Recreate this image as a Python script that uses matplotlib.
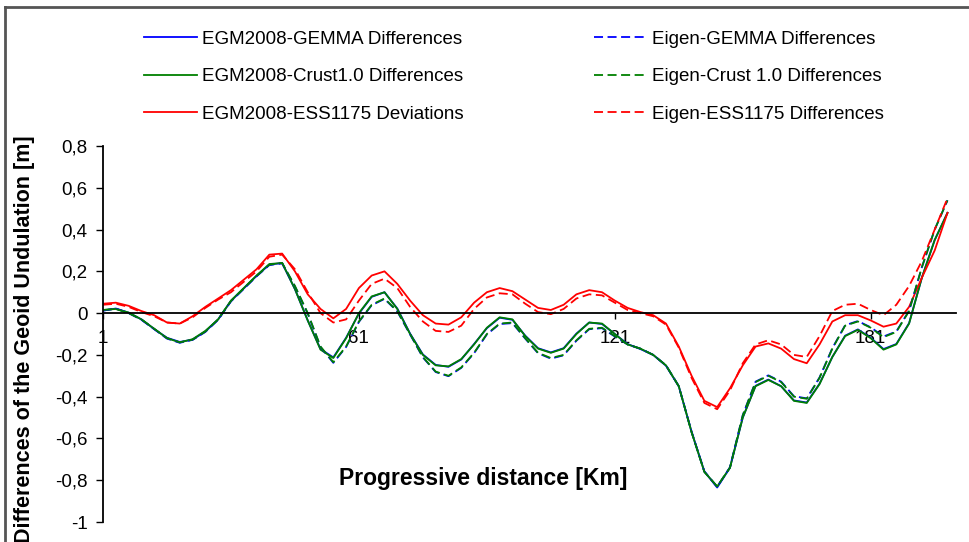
import numpy as np
import matplotlib
matplotlib.use('Agg')
import matplotlib.pyplot as plt
from matplotlib.lines import Line2D

plt.rcParams['font.family'] = ['Liberation Sans', 'DejaVu Sans']

# progressive distance [km], one sample every 3 km
km = np.arange(1, 201, 3)

# EGM2008 based differences
egm_gemma = [0.012, 0.022, 0.002, -0.03, -0.076, -0.118, -0.138, -0.127, -0.088, -0.03,
             0.058, 0.118, 0.178, 0.232, 0.24, 0.115, -0.035, -0.172, -0.212, -0.118,
             -0.002, 0.078, 0.1, 0.022, -0.098, -0.198, -0.248, -0.257, -0.222, -0.148,
             -0.072, -0.022, -0.032, -0.108, -0.168, -0.188, -0.168, -0.098, -0.045, -0.052,
             -0.1, -0.148, -0.172, -0.2, -0.252, -0.35, -0.568, -0.758, -0.835, -0.74,
             -0.5, -0.348, -0.318, -0.35, -0.418, -0.428, -0.338, -0.21, -0.108, -0.078,
             -0.118, -0.172, -0.148, -0.048, 0.17, 0.35, 0.48]
egm_crust = [0.015, 0.02, 0.003, -0.03, -0.075, -0.12, -0.14, -0.125, -0.085, -0.03,
             0.06, 0.12, 0.18, 0.235, 0.24, 0.115, -0.035, -0.175, -0.215, -0.12,
             0.0, 0.08, 0.10, 0.02, -0.10, -0.20, -0.25, -0.255, -0.22, -0.15,
             -0.07, -0.02, -0.03, -0.11, -0.17, -0.19, -0.17, -0.10, -0.045, -0.05,
             -0.10, -0.15, -0.17, -0.20, -0.25, -0.35, -0.57, -0.76, -0.83, -0.74,
             -0.50, -0.35, -0.32, -0.35, -0.42, -0.43, -0.34, -0.21, -0.11, -0.08,
             -0.12, -0.175, -0.15, -0.05, 0.17, 0.35, 0.48]
egm_ess = [0.045, 0.05, 0.035, 0.01, -0.01, -0.045, -0.05, -0.015, 0.03, 0.07,
           0.11, 0.16, 0.21, 0.28, 0.285, 0.2, 0.09, 0.02, -0.025, 0.02,
           0.12, 0.18, 0.20, 0.14, 0.06, -0.01, -0.05, -0.055, -0.02, 0.05,
           0.10, 0.12, 0.105, 0.065, 0.025, 0.015, 0.04, 0.09, 0.11, 0.10,
           0.06, 0.025, 0.005, -0.01, -0.05, -0.16, -0.30, -0.42, -0.45, -0.36,
           -0.25, -0.16, -0.145, -0.17, -0.22, -0.24, -0.15, -0.04, -0.01, -0.01,
           -0.035, -0.065, -0.05, 0.03, 0.17, 0.30, 0.48]

# Eigen based differences
eig_gemma = [0.012, 0.022, 0.0, -0.032, -0.077, -0.122, -0.142, -0.128, -0.09, -0.032,
             0.056, 0.116, 0.176, 0.23, 0.238, 0.128, -0.002, -0.162, -0.238, -0.162,
             -0.042, 0.038, 0.068, 0.008, -0.102, -0.212, -0.282, -0.302, -0.262, -0.192,
             -0.102, -0.052, -0.048, -0.122, -0.192, -0.218, -0.202, -0.132, -0.077, -0.072,
             -0.112, -0.15, -0.17, -0.2, -0.25, -0.35, -0.568, -0.758, -0.832, -0.738,
             -0.488, -0.328, -0.298, -0.328, -0.398, -0.408, -0.308, -0.168, -0.058, -0.038,
             -0.068, -0.112, -0.088, 0.012, 0.22, 0.40, 0.54]
eig_crust = [0.015, 0.02, 0.0, -0.03, -0.075, -0.12, -0.14, -0.127, -0.088, -0.03,
             0.058, 0.118, 0.178, 0.232, 0.24, 0.13, 0.0, -0.16, -0.235, -0.16,
             -0.04, 0.04, 0.07, 0.01, -0.10, -0.21, -0.28, -0.30, -0.26, -0.19,
             -0.10, -0.05, -0.045, -0.12, -0.19, -0.215, -0.20, -0.13, -0.075, -0.07,
             -0.11, -0.15, -0.17, -0.20, -0.25, -0.35, -0.57, -0.76, -0.83, -0.74,
             -0.49, -0.33, -0.30, -0.33, -0.40, -0.41, -0.31, -0.17, -0.06, -0.04,
             -0.07, -0.115, -0.09, 0.01, 0.22, 0.40, 0.54]
eig_ess = [0.04, 0.045, 0.03, 0.005, -0.015, -0.045, -0.05, -0.02, 0.025, 0.065,
           0.10, 0.15, 0.20, 0.27, 0.28, 0.21, 0.10, 0.0, -0.045, -0.03,
           0.06, 0.14, 0.165, 0.12, 0.03, -0.04, -0.085, -0.09, -0.06, 0.02,
           0.075, 0.095, 0.09, 0.045, 0.005, -0.005, 0.02, 0.07, 0.09, 0.085,
           0.05, 0.015, 0.0, -0.015, -0.055, -0.165, -0.31, -0.43, -0.46, -0.37,
           -0.24, -0.15, -0.13, -0.15, -0.20, -0.21, -0.11, 0.01, 0.04, 0.045,
           0.015, -0.01, 0.04, 0.13, 0.25, 0.40, 0.55]

labels_solid = ['EGM2008-GEMMA Differences', 'EGM2008-Crust1.0 Differences',
                'EGM2008-ESS1175 Deviations']
labels_dashed = ['Eigen-GEMMA Differences', 'Eigen-Crust 1.0 Differences',
                 'Eigen-ESS1175 Differences']

x_ticks = [1, 61, 121, 181]
y_ticks = [0.8, 0.6, 0.4, 0.2, 0, -0.2, -0.4, -0.6, -0.8, -1]
y_tick_labels = ['0,8', '0,6', '0,4', '0,2', '0', '-0,2', '-0,4', '-0,6', '-0,8', '-1']

colors = ['#0000FF', '#008000', '#FF0000']

fig = plt.figure(figsize=(9.69, 5.42), dpi=100)
ax = fig.add_axes([0.1063, 0.0369, 0.8803, 0.6937])

handles = []
for vals, c, lab in zip([egm_gemma, egm_crust, egm_ess], colors, labels_solid):
    h, = ax.plot(km, vals, color=c, lw=1.3, label=lab)
    handles.append(h)
for vals, c, lab in zip([eig_gemma, eig_crust, eig_ess], colors, labels_dashed):
    h, = ax.plot(km, vals, color=c, lw=1.3, dashes=(5, 2.5), label=lab)
    handles.append(h)

ax.set_xlim(1, 201)
ax.set_ylim(-1, 0.8)

ax.spines['top'].set_visible(False)
ax.spines['right'].set_visible(False)
ax.spines['bottom'].set_position(('data', 0))
ax.spines['bottom'].set_linewidth(1.3)
ax.spines['left'].set_linewidth(1.3)
ax.spines['bottom'].set_zorder(5)

ax.set_xticks(x_ticks)
ax.set_xticklabels([str(t) for t in x_ticks])
ax.set_yticks(y_ticks)
ax.set_yticklabels(y_tick_labels)
ax.tick_params(axis='x', direction='out', length=4, width=1, pad=8,
               labelsize=13.5, colors='black')
ax.tick_params(axis='y', direction='out', length=5, width=1, pad=6,
               labelsize=13.5, colors='black')

ax.text(0.4455, 0.117, 'Progressive distance [Km]', transform=ax.transAxes,
        ha='center', va='center', fontsize=16.5, fontweight='bold')
fig.text(25 / 969, 0.375, 'Differences of the Geoid Undulation [m]', rotation=90,
         ha='center', va='center', fontsize=15.5, fontweight='bold')

fig.legend(handles=handles, loc='upper left', bbox_to_anchor=(0.131, 0.975),
           ncol=2, frameon=False, fontsize=13.5, handlelength=2.85,
           handletextpad=0.25, columnspacing=6.95, labelspacing=1.1)

# chart frame (only top and left edges are visible in the crop)
fig.add_artist(Line2D([5 / 969, 1.0], [1 - 7 / 542, 1 - 7 / 542],
                      color='#555555', lw=2, transform=fig.transFigure))
fig.add_artist(Line2D([5 / 969, 5 / 969], [0.0, 1 - 7 / 542],
                      color='#555555', lw=2, transform=fig.transFigure))

fig.savefig('out.png', dpi=100)
plt.close(fig)
